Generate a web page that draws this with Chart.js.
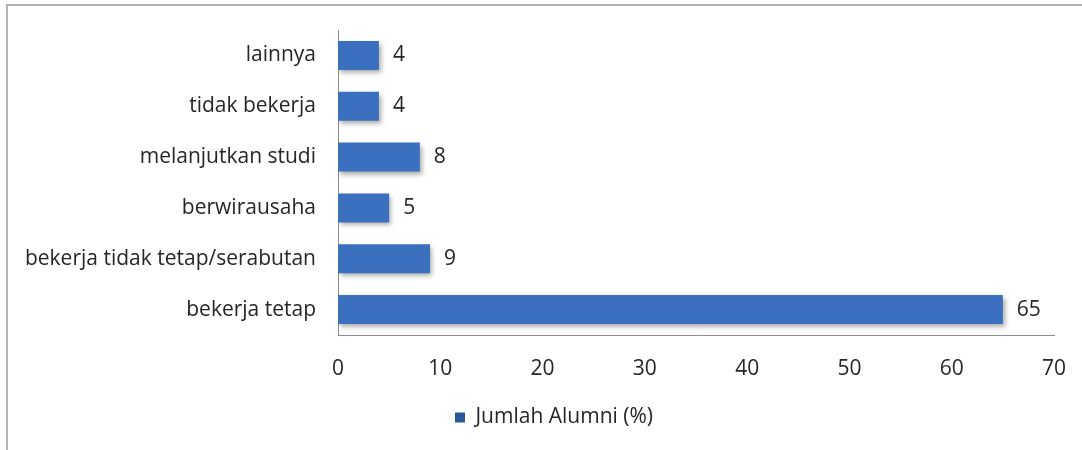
<!DOCTYPE html>
<html>
<head>
<meta charset="utf-8">
<script src="https://cdn.jsdelivr.net/npm/chart.js@4"></script>
<style>
    html, body { margin: 0; padding: 0; background: #fff; }
    body { width: 1082px; height: 450px; overflow: hidden; }
    .frame {
        position: absolute; left: 6px; top: 4px;
        width: 1074px; height: 446px;
        border-left: 2px solid #b4b4b4; border-top: 2px solid #b4b4b4;
    }
    .frame canvas { display: block; }
</style>
</head>
<body>
<div class="frame"><canvas id="alumniChart" width="1074" height="444"></canvas></div>
<script>
// categories top -> bottom as shown in the picture
const categories = [
    'lainnya',
    'tidak bekerja',
    'melanjutkan studi',
    'berwirausaha',
    'bekerja tidak tetap/serabutan',
    'bekerja tetap'
];
const alumniPct = [4, 4, 8, 5, 9, 65];
const seriesName = 'Jumlah Alumni (%)';
const xTicks = [0, 10, 20, 30, 40, 50, 60, 70];

const FONT = 'Open Sans';
const FONT_SIZE = 21;
const TEXT = '#262626';

// gradient fill per bar, like the Excel style
function barFill(context) {
    const el = context.element;
    const ctx = context.chart.ctx;
    if (!el || el.y === undefined) return '#3a70bd';
    const h = el.height || 28;
    const g = ctx.createLinearGradient(0, el.y - h / 2, 0, el.y + h / 2);
    g.addColorStop(0, '#4586d6');
    g.addColorStop(0.45, '#3774c4');
    g.addColorStop(1, '#2a5a99');
    return g;
}

// soft shadow under the bars
const barShadow = {
    id: 'barShadow',
    beforeDatasetsDraw(chart) {
        const ctx = chart.ctx;
        ctx.save();
        ctx.shadowColor = 'rgba(0,0,0,0.35)';
        ctx.shadowBlur = 5;
        ctx.shadowOffsetX = 2;
        ctx.shadowOffsetY = 3;
    },
    afterDatasetsDraw(chart) {
        chart.ctx.restore();
    }
};

// value labels right of each bar
const valueLabels = {
    id: 'valueLabels',
    afterDatasetsDraw(chart) {
        const ctx = chart.ctx;
        const meta = chart.getDatasetMeta(0);
        ctx.save();
        ctx.font = FONT_SIZE + 'px "' + FONT + '"';
        ctx.fillStyle = TEXT;
        ctx.textAlign = 'left';
        ctx.textBaseline = 'middle';
        meta.data.forEach((bar, i) => {
            ctx.fillText(String(alumniPct[i]), bar.x + 14, bar.y);
        });
        ctx.restore();
    }
};

// legend sits a little right of the layout centre in the original
const legendShift = {
    id: 'legendShift',
    afterLayout(chart) {
        if (chart.legend) {
            chart.legend.left += 23;
            chart.legend.right += 23;
        }
    }
};

new Chart(document.getElementById('alumniChart'), {
    type: 'bar',
    data: {
        labels: categories,
        datasets: [{
            label: seriesName,
            data: alumniPct,
            backgroundColor: barFill,
            borderWidth: 0,
            barPercentage: 0.57,
            categoryPercentage: 1.0
        }]
    },
    options: {
        indexAxis: 'y',
        responsive: false,
        animation: false,
        layout: { padding: { top: 24, right: 28, bottom: 12, left: 0 } },
        plugins: {
            legend: {
                position: 'bottom',
                labels: {
                    boxWidth: 10,
                    boxHeight: 10,
                    padding: 10,
                    color: TEXT,
                    font: { family: FONT, size: FONT_SIZE }
                }
            },
            tooltip: { enabled: false }
        },
        scales: {
            x: {
                min: 0,
                max: 70,
                afterBuildTicks(axis) { axis.ticks = xTicks.map(v => ({ value: v })); },
                grid: { display: false, drawTicks: false },
                border: { display: true, color: '#8c8c8c', width: 1 },
                ticks: { color: TEXT, padding: 21, font: { family: FONT, size: FONT_SIZE } },
                afterFit(axis) {
                    axis.height = 62;
                    axis.paddingLeft = 0;
                    axis.paddingRight = 0;
                }
            },
            y: {
                grid: { display: false, drawTicks: false },
                border: { display: true, color: '#8c8c8c', width: 1 },
                ticks: { color: TEXT, padding: 22, font: { family: FONT, size: FONT_SIZE } },
                afterFit(axis) {
                    axis.width = 330;
                    axis.paddingTop = 0;
                    axis.paddingBottom = 0;
                }
            }
        }
    },
    plugins: [barShadow, valueLabels, legendShift]
});
</script>
</body>
</html>
